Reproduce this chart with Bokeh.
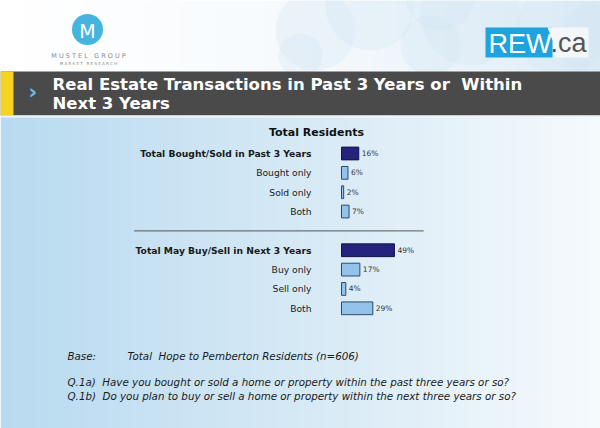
import numpy as np
from bokeh.plotting import figure
from bokeh.models import Range1d
from bokeh.core.properties import value
from bokeh.embed import file_html
from bokeh.resources import INLINE

NB = "\u00a0"

# ---------------- data ----------------
chart_title = "Total Residents"
group_titles = ["Total Bought/Sold in Past 3 Years", "Total May Buy/Sell in Next 3 Years"]
group_totals = [16, 49]
group1_items = ["Bought only", "Sold only", "Both"]
group1_values = [6, 2, 7]
group2_items = ["Buy only", "Sell only", "Both"]
group2_values = [17, 4, 29]

page_title_1 = "Real Estate Transactions in Past 3 Years or" + NB + " Within"
page_title_2 = "Next 3 Years"
base_label = "Base:"
base_text = "Total" + NB + " Hope to Pemberton Residents (n=606)"
q1a = "Q.1a)" + NB + " Have you bought or sold a home or property within the past three years or so?"
q1b = "Q.1b)" + NB + " Do you plan to buy or sell a home or property within the next three years or so?"

# ---------------- layout ----------------
W, H = 600, 428
FONT = "DejaVu Sans"

p = figure(width=W, height=H, x_range=Range1d(0, W), y_range=Range1d(H, 0),
           x_axis_type=None, y_axis_type=None, output_backend="svg",
           toolbar_location=None, min_border=0)
p.grid.visible = False
p.outline_line_color = None
p.background_fill_color = "white"
p.border_fill_color = "white"

# chart scales (percent on x, row index on y)
px_per_pct = 1.08
x0 = 341.0
row0, pitch = 153.0, 19.35
p.extra_x_ranges = {"pct": Range1d(-x0 / px_per_pct, (W - x0) / px_per_pct)}
p.extra_y_ranges = {"row": Range1d((H - row0) / pitch, -row0 / pitch)}

# ---------------- background ----------------
def lerp(c1, c2, t):
    return "#%02x%02x%02x" % tuple(int(round(a + (b - a) * t)) for a, b in zip(c1, c2))

def hgrad(top, bottom, cl, cm, cr, n=50):
    sx = np.linspace(0, W, n + 1)
    cols = []
    for i in range(n):
        t = (i + 0.5) / n
        cols.append(lerp(cl, cm, t * 2) if t < 0.5 else lerp(cm, cr, (t - 0.5) * 2))
    p.quad(left=sx[:-1], right=sx[1:] + 0.5, top=[top] * n, bottom=[bottom] * n,
           fill_color=cols, line_color=None)

# header area: white on the left, pale blue toward the right
hgrad(0, 71, (255, 255, 255), (246, 250, 253), (222, 236, 246))
# body
hgrad(116, H, (184, 218, 240), (214, 233, 245), (246, 250, 253))

# faint bubbles in header
bx = [315, 370, 430, 470, 300, 560, 440, 600]
by = [30, 5, 45, 15, 55, 30, -5, 40]
br = [40, 45, 30, 50, 22, 45, 35, 40]
p.circle(bx, by, radius=br, fill_color="#cfe3f1", fill_alpha=0.3, line_color=None)

# logo
p.circle([87], [29], radius=15.5, fill_color="#45b5e0", line_color=None)
p.text([87], [30], text=["M"], text_font=value(FONT), text_font_size="19px",
       text_color="white", text_align="center", text_baseline="middle")
p.text([88], [55], text=[NB.join("MUSTEL") + NB * 3 + NB.join("GROUP")], text_font=value(FONT),
       text_font_size="6.5px", text_color="#8a8a8a", text_align="center", text_baseline="middle")
p.text([88], [63], text=[NB.join("MARKET") + NB * 3 + NB.join("RESEARCH")], text_font=value(FONT),
       text_font_size="4px", text_color="#8a8a8a", text_align="center", text_baseline="middle")

# REW.ca logo
p.patch([548, 588, 588, 555], [27, 27, 57, 57], fill_color="#f4f7f9", line_color=None)
p.quad(left=[485], right=[552], top=[27], bottom=[57], fill_color="#1fa3dc", line_color=None)
p.patch([547, 556, 552], [27, 27, 40], fill_color="#f4f7f9", line_color=None)
p.text([488], [43], text=["REW"], text_font=value("Liberation Sans"), text_font_size="27px",
       text_color="white", text_align="left", text_baseline="middle")
p.text([550], [42], text=[".ca"], text_font=value("Liberation Sans"), text_font_size="27px",
       text_color="#555555", text_align="left", text_baseline="middle")

# title band
p.quad(left=[0], right=[W], top=[71], bottom=[115], fill_color="#4a4a4a", line_color=None)
p.quad(left=[0], right=[13], top=[71], bottom=[115], fill_color="#f5d320", line_color=None)
p.quad(left=[0], right=[W], top=[115], bottom=[117], fill_color="#f0f6fa", line_color=None)
p.text([28], [91], text=["\u203a"], text_font=value(FONT), text_font_size="21px",
       text_font_style="bold", text_color="#6cc0e6", text_align="left", text_baseline="middle")
p.text([52, 52], [84, 103], text=[page_title_1, page_title_2], text_font=value(FONT),
       text_font_size="16.5px", text_font_style="bold", text_color="white",
       text_align="left", text_baseline="middle")

# ---------------- chart ----------------
cats, vals, rows, is_total = [], [], [], []
for g, (t, tv, items, ivals) in enumerate([(group_titles[0], group_totals[0], group1_items, group1_values),
                                           (group_titles[1], group_totals[1], group2_items, group2_values)]):
    base = g * (len(items) + 2)
    cats.append(t); vals.append(tv); rows.append(base); is_total.append(True)
    for k, (it, iv) in enumerate(zip(items, ivals)):
        cats.append(it); vals.append(iv); rows.append(base + k + 1); is_total.append(False)

fills = ["#25237e" if t else "#93c3ea" for t in is_total]
lines = ["#14134a" if t else "#2e4a6b" for t in is_total]
p.hbar(y=rows, left=0, right=vals, height=0.66, fill_color=fills, line_color=lines,
       line_width=1, x_range_name="pct", y_range_name="row")

for t_flag in (True, False):
    idx = [i for i, t in enumerate(is_total) if t == t_flag]
    p.text([0] * len(idx), [rows[i] for i in idx], text=[cats[i] for i in idx],
           x_offset=-30, text_font=value(FONT), text_font_size="9.2px",
           text_font_style="bold" if t_flag else "normal", text_color="#1a1a1a",
           text_align="right", text_baseline="middle", x_range_name="pct", y_range_name="row")

p.text(vals, rows, text=[f"{v}%" for v in vals], x_offset=3, text_font=value(FONT),
       text_font_size="7.5px", text_color="#333333", text_align="left", text_baseline="middle",
       x_range_name="pct", y_range_name="row")

# separator line (between groups)
sep_row = len(group1_items) + 1
p.segment(x0=[-192], y0=[sep_row], x1=[76], y1=[sep_row], line_color="#555555", line_width=1,
          x_range_name="pct", y_range_name="row")

# chart title
p.text([316], [132], text=[chart_title], text_font=value(FONT), text_font_size="11px",
       text_font_style="bold", text_color="#111111", text_align="center", text_baseline="middle")

# ---------------- footnotes ----------------
p.text([67], [355], text=[base_label], text_font=value(FONT), text_font_size="10.3px",
       text_font_style="italic", text_color="#1a1a1a", text_align="left", text_baseline="middle")
p.text([127], [355], text=[base_text], text_font=value(FONT), text_font_size="10.3px",
       text_font_style="italic", text_color="#1a1a1a", text_align="left", text_baseline="middle")
p.text([67, 67], [381.5, 395], text=[q1a, q1b], text_font=value(FONT), text_font_size="10.3px",
       text_font_style="italic", text_color="#1a1a1a", text_align="left", text_baseline="middle")

open("out.html", "w").write(file_html(p, INLINE))
